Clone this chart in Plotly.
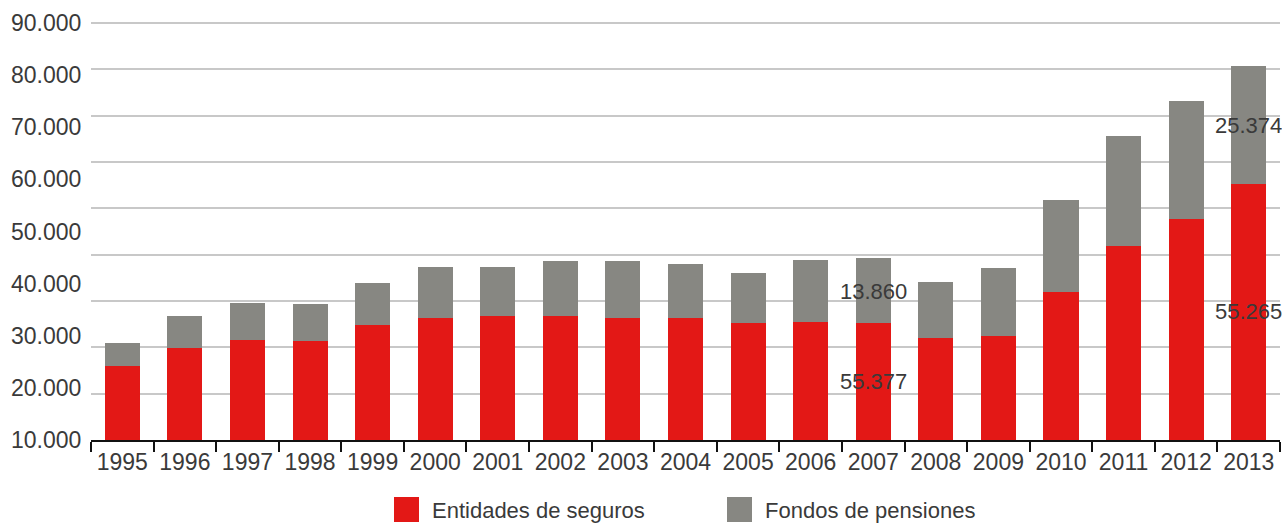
import plotly.graph_objects as go

# ---- data ----
years = [str(y) for y in range(1995, 2014)]
seguros = [15970, 19850, 21650, 21360, 24890, 26400, 26690, 26690, 26400, 26400,
           25180, 25460, 25180, 21940, 22510, 32010, 41870, 47720, 55265]
pensiones = [5030, 6840, 7980, 7920, 8920, 10930, 10640, 11870, 12160, 11510,
             10930, 13310, 14160, 12090, 14540, 19850, 23670, 25500, 25374]
ytick_vals = [10000, 20000, 30000, 40000, 50000, 60000, 70000, 80000, 90000]
ytick_text = ["10.000", "20.000", "30.000", "40.000", "50.000", "60.000",
              "70.000", "80.000", "90.000"]
series_names = ["Entidades de seguros", "Fondos de pensiones"]
label_2007 = ["13.860", "55.377"]

RED = "#E31816"
GREY = "#878782"
TXT = "#3a3a3a"
FONT = "Liberation Sans, Arial, sans-serif"

W, H = 1282, 527
# plot area in page pixels
PL, PR, PT, PB = 91, 1280, 15, 440
TOPLINE = 23                      # pixel row of the 90.000 line / label
L, R, T, B = PL, W - PR, PT, H - PB
PW, PH = PR - PL, PB - PT
YTOP = 90000 * PH / (PB - TOPLINE)
Y2TOP = 10000 + 80000 * PH / (PB - TOPLINE)


def px_x(p):
    return (p - PL) / PW


def px_y(p):
    return (PB - p) / PH


fig = go.Figure()
fig.add_trace(go.Bar(x=years, y=seguros, name=series_names[0],
                     marker=dict(color=RED, line=dict(width=0)), showlegend=False))
fig.add_trace(go.Bar(x=years, y=pensiones, name=series_names[1],
                     marker=dict(color=GREY, line=dict(width=0)), showlegend=False))
# invisible trace to carry the label axis
fig.add_trace(go.Scatter(x=[years[0]], y=[ytick_vals[0]], yaxis="y2", mode="markers",
                         marker=dict(opacity=0), showlegend=False, hoverinfo="skip"))


def fmt(v):
    return f"{v:,}".replace(",", ".")


LBL = dict(family=FONT, size=22, color=TXT)
annotations = []
last = len(years) - 1
annotations.append(dict(x=last, y=seguros[last] / 2, text=fmt(seguros[last]),
                        showarrow=False, xref="x", yref="y", font=LBL))
annotations.append(dict(x=last, y=seguros[last] + pensiones[last] / 2,
                        text=fmt(pensiones[last]), showarrow=False, xref="x", yref="y",
                        font=LBL))
i07 = years.index("2007")
annotations.append(dict(x=i07, y=px_y(291.7), text=label_2007[0], showarrow=False,
                        xref="x", yref="paper", yanchor="middle", font=LBL))
annotations.append(dict(x=i07, y=px_y(381.5), text=label_2007[1], showarrow=False,
                        xref="x", yref="paper", yanchor="middle", font=LBL))

# legend with large square swatches
shapes = []
legend_items = [(394, 430, RED, series_names[0]), (727, 763, GREY, series_names[1])]
for sq_x, tx, col, name in legend_items:
    shapes.append(dict(type="rect", xref="paper", yref="paper",
                       x0=px_x(sq_x), x1=px_x(sq_x + 25), y0=px_y(522), y1=px_y(497),
                       fillcolor=col, line=dict(width=0)))
    annotations.append(dict(x=px_x(tx), y=px_y(510), xref="paper", yref="paper",
                            xanchor="left", yanchor="middle", text=name, showarrow=False,
                            font=dict(family=FONT, size=22, color=TXT)))

fig.update_layout(
    width=W, height=H,
    margin=dict(l=L, r=R, t=T, b=B, autoexpand=False),
    barmode="stack",
    bargap=0.44,
    plot_bgcolor="white",
    paper_bgcolor="white",
    font=dict(family=FONT, color=TXT, size=23),
    showlegend=False,
    xaxis=dict(type="category", range=[-0.5, len(years) - 0.5], showline=True,
               linecolor="#111111", linewidth=2, ticks="outside", tickson="boundaries",
               ticklen=10, tickwidth=2, tickcolor="#111111", tickangle=0,
               tickfont=dict(family=FONT, size=23, color=TXT), automargin=False,
               showgrid=False, zeroline=False),
    yaxis=dict(range=[0, YTOP], tickvals=[v - 10000 for v in ytick_vals] + [ytick_vals[-1]],
               showgrid=True, gridcolor="#c8c8c8",
               gridwidth=2, showticklabels=False, zeroline=False, showline=False,
               ticks="", automargin=False),
    yaxis2=dict(overlaying="y", side="left", range=[10000, Y2TOP], tickvals=ytick_vals,
                ticktext=ytick_text, showgrid=False, zeroline=False, showline=False,
                ticks="outside", ticklen=4, tickcolor="rgba(0,0,0,0)", automargin=False,
                tickfont=dict(family=FONT, size=23, color=TXT)),
    annotations=annotations,
    shapes=shapes,
)

fig.write_html(
    "out.html",
    config={"displayModeBar": False},
    post_script="document.body.style.margin='0';document.body.style.overflow='hidden';",
)
